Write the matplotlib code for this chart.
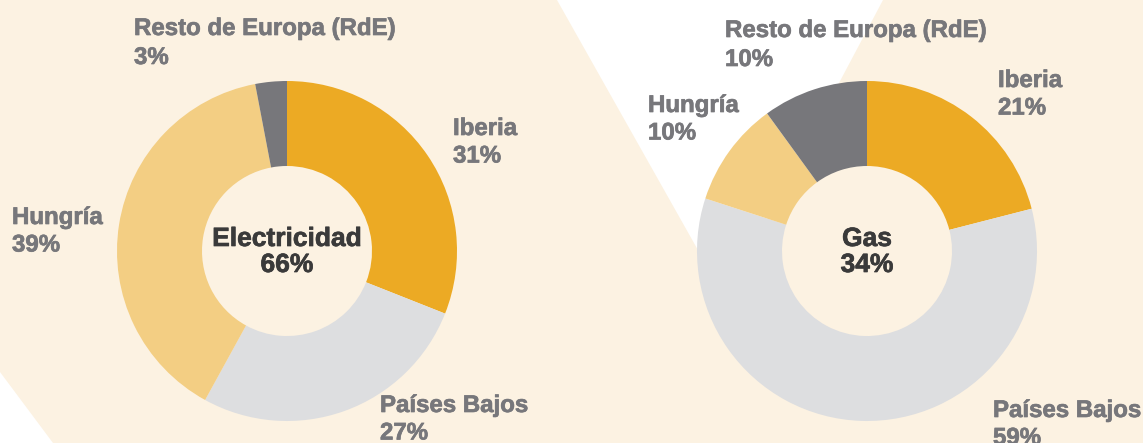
import matplotlib
matplotlib.use('Agg')
import matplotlib.pyplot as plt
import matplotlib.patheffects as pe

# Datos de los dos gráficos de anillo
regiones = ['Iberia', 'Países Bajos', 'Hungría', 'Resto de Europa (RdE)']
electricidad = [31, 27, 39, 3]
gas = [21, 59, 10, 10]
titulos = ['Electricidad', 'Gas']
totales = [66, 34]

colores = ['#ECAA24', '#DDDEE0', '#F3CE83', '#77777B']
fondo = '#FCF2E2'
gris_txt = '#77777B'
oscuro = '#3A3A3A'

plt.rcParams['font.family'] = ['Liberation Sans', 'DejaVu Sans']

W, H = 1143, 443
fig = plt.figure(figsize=(W / 100, H / 100), dpi=100, facecolor=fondo)
ax = fig.add_axes([0, 0, 1, 1])

# Formas blancas del fondo (en píxeles, eje y invertido)
ax.fill([557, 883, 725], [0, 0, 298], color='white', zorder=0, lw=0)
ax.fill([0, 0, 53], [372, 443, 443], color='white', zorder=0, lw=0)

centros = [(287, 251), (867, 251)]
radio = 170

for valores, (cx, cy) in zip([electricidad, gas], centros):
    # eje y invertido: startangle=-90 apunta arriba y counterclock=True gira en sentido horario
    ax.pie(valores, colors=colores, center=(cx, cy), radius=radio,
           startangle=-90, counterclock=True,
           wedgeprops=dict(width=radio * 0.5, linewidth=0))

# Etiquetas (x izquierda, línea base del nombre en píxeles)
pos_etiquetas = [
    [(453, 135), (380, 412), (12, 224), (134, 35)],
    [(998, 87), (993, 417), (648, 112), (725, 37)],
]
grosor = [pe.withStroke(linewidth=0.5, foreground=gris_txt)]
for valores, posiciones in zip([electricidad, gas], pos_etiquetas):
    for nombre, v, (x, y) in zip(regiones, valores, posiciones):
        salto = 29 if nombre.startswith('Resto') else 27.5
        ax.text(x, y, nombre, ha='left', va='baseline', fontsize=17.3,
                fontweight='bold', color=gris_txt, path_effects=grosor)
        ax.text(x, y + salto, f'{v}%', ha='left', va='baseline', fontsize=17.3,
                fontweight='bold', color=gris_txt, path_effects=grosor)

grosor_c = [pe.withStroke(linewidth=0.5, foreground=oscuro)]
for titulo, total, (cx, cy) in zip(titulos, totales, centros):
    ax.text(cx, 246, titulo, ha='center', va='baseline', fontsize=19,
            fontweight='bold', color=oscuro, path_effects=grosor_c)
    ax.text(cx, 272, f'{total}%', ha='center', va='baseline', fontsize=19,
            fontweight='bold', color=oscuro, path_effects=grosor_c)

ax.set_xlim(0, W)
ax.set_ylim(H, 0)
ax.set_aspect('equal')
ax.axis('off')

fig.savefig('out.png', dpi=100, facecolor=fondo)
